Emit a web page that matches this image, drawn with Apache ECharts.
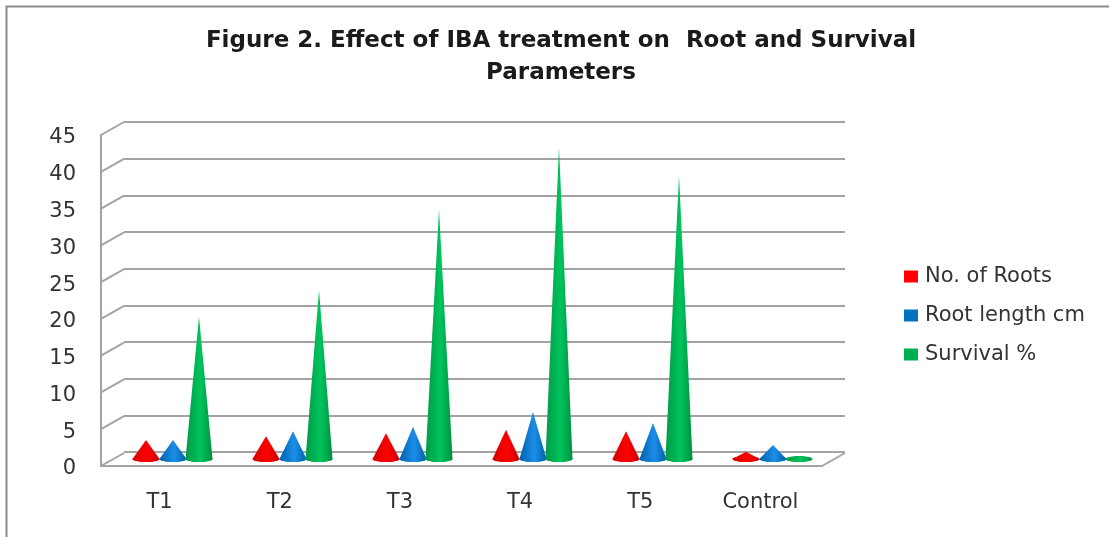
<!DOCTYPE html>
<html>
<head>
<meta charset="utf-8">
<style>
  html, body { margin: 0; padding: 0; background: #fff; }
  #chart { width: 1109px; height: 537px; }
</style>
<script src="https://cdn.jsdelivr.net/npm/echarts@6/dist/echarts.min.js"></script>
</head>
<body>
<div id="chart"></div>
<script>
var categories = ['T1', 'T2', 'T3', 'T4', 'T5', 'Control'];
var noOfRoots = [2.6, 3.1, 3.5, 4.0, 3.8, 1.0];
var rootLength = [2.6, 3.8, 4.4, 6.4, 4.9, 1.9];
var survival = [19.4, 23, 34, 42.5, 38.7, 0.3];
var yTicks = [0, 5, 10, 15, 20, 25, 30, 35, 40, 45];

var font = '"DejaVu Sans", sans-serif';
var wallColor = '#a3a3a3';
var depthX = 23;
var depthY = -13;

function shade(edgeL, mid, edgeR) {
  return new echarts.graphic.LinearGradient(0, 0, 1, 0, [
    { offset: 0, color: edgeL },
    { offset: 0.55, color: mid },
    { offset: 1, color: edgeR }
  ]);
}

// cone = tip + lower half of the base ellipse, plus the whole ellipse for flat ones
function coneSeries(name, values, color, fill, offset) {
  return {
    name: name,
    type: 'custom',
    xAxisIndex: 2,
    yAxisIndex: 2,
    z: 5,
    itemStyle: { color: color },
    data: values.map(function (v, i) { return [i, v]; }),
    renderItem: function (params, api) {
      var tip = api.coord([api.value(0), api.value(1)]);
      var base = api.coord([api.value(0), 0]);
      var cx = base[0] + offset;
      var rx = 13.5, ry = 3;
      var pts = [[cx, tip[1]]], oval = [];
      for (var a = 0; a <= 360; a += 15) {
        var p = [cx + rx * Math.cos(a * Math.PI / 180), base[1] + ry * Math.sin(a * Math.PI / 180)];
        oval.push(p);
        if (a <= 180) pts.push(p);
      }
      return {
        type: 'group',
        children: [
          { type: 'polygon', shape: { points: oval }, style: { fill: fill } },
          { type: 'polygon', shape: { points: pts }, style: { fill: fill } }
        ]
      };
    }
  };
}

var option = {
  animation: false,
  backgroundColor: '#fff',
  title: {
    text: 'Figure 2. Effect of IBA treatment on  Root and Survival\nParameters',
    left: 556,
    top: 20,
    textAlign: 'center',
    textStyle: { fontFamily: font, fontSize: 23, fontWeight: 'bold', color: '#1a1a1a', lineHeight: 32 }
  },
  legend: {
    data: ['No. of Roots', 'Root length cm', 'Survival %'],
    orient: 'vertical',
    left: 899,
    top: 261,
    icon: 'rect',
    itemWidth: 14,
    itemHeight: 12,
    itemGap: 18,
    textStyle: { fontFamily: font, fontSize: 21, color: '#333', padding: [0, 0, 0, 2] }
  },
  graphic: [{
    type: 'polyline',
    silent: true,
    shape: { points: [[6.5, 537], [6.5, 6.5], [1109, 6.5]] },
    style: { fill: null, stroke: '#8a8a8a', lineWidth: 2 }
  }],
  grid: [
    { left: 101, top: 135, width: 721, height: 331 },  // front edge, carries the category labels
    { left: 124, top: 122, width: 721, height: 330 },  // back wall
    { left: 113, top: 129, width: 720, height: 330 },  // plane the cones stand on
    { left: 101, top: 138, width: 721, height: 331 }   // value labels sit a little under their ticks
  ],
  xAxis: [
    {
      gridIndex: 0, type: 'category', data: categories,
      axisTick: { show: false },
      axisLine: { lineStyle: { color: wallColor, width: 2 } },
      axisLabel: { margin: 26, fontFamily: font, fontSize: 21, color: '#333', padding: [0, 3, 0, 0] }
    },
    { gridIndex: 1, type: 'category', data: categories, show: false },
    { gridIndex: 2, type: 'category', data: categories, show: false },
    { gridIndex: 3, type: 'category', data: categories, show: false }
  ],
  yAxis: [
    {
      gridIndex: 0, type: 'value', min: 0, max: 45, interval: 5,
      axisLine: { show: true, lineStyle: { color: wallColor, width: 2 } },
      axisTick: { show: false },
      axisLabel: { show: false },
      splitLine: { show: false }
    },
    {
      gridIndex: 1, type: 'value', min: 0, max: 45, interval: 5,
      axisLine: { show: false },
      axisTick: { show: false },
      axisLabel: { show: false },
      splitLine: { lineStyle: { color: wallColor, width: 2 } }
    },
    {
      gridIndex: 2, type: 'value', min: 0, max: 45, interval: 5,
      axisLine: { show: false },
      axisTick: { show: false },
      axisLabel: { show: false },
      splitLine: { show: false }
    },
    {
      gridIndex: 3, type: 'value', min: 0, max: 45, interval: 5,
      axisLine: { show: false },
      axisTick: { show: false },
      splitLine: { show: false },
      axisLabel: { margin: 25, fontFamily: font, fontSize: 21, color: '#333' }
    }
  ],
  series: [
    {
      type: 'custom',
      name: 'depth',
      xAxisIndex: 0,
      yAxisIndex: 0,
      silent: true,
      z: 1,
      data: yTicks.map(function (t) { return [0, t]; }),
      renderItem: function (params, api) {
        var y = api.coord([0, api.value(1)])[1];
        var x = params.coordSys.x;
        var style = { stroke: wallColor, lineWidth: 2, fill: null };
        var kids = [{ type: 'line', shape: { x1: x, y1: y, x2: x + depthX, y2: y + depthY }, style: style }];
        if (api.value(1) === 0) {
          var xr = x + params.coordSys.width;
          kids.push({ type: 'line', shape: { x1: xr, y1: y, x2: xr + depthX, y2: y + depthY }, style: style });
        }
        return { type: 'group', children: kids };
      }
    },
    coneSeries('No. of Roots', noOfRoots, '#ff0000', shade('#d40000', '#ff0000', '#c80000'), -27),
    coneSeries('Root length cm', rootLength, '#0070c0', shade('#0062ac', '#1c8ee8', '#005ea6'), 0),
    coneSeries('Survival %', survival, '#00b050', shade('#009a46', '#00c45c', '#008f40'), 26)
  ]
};

var myChart = echarts.init(document.getElementById('chart'), null, { renderer: 'canvas' });
myChart.setOption(option);
</script>
</body>
</html>
